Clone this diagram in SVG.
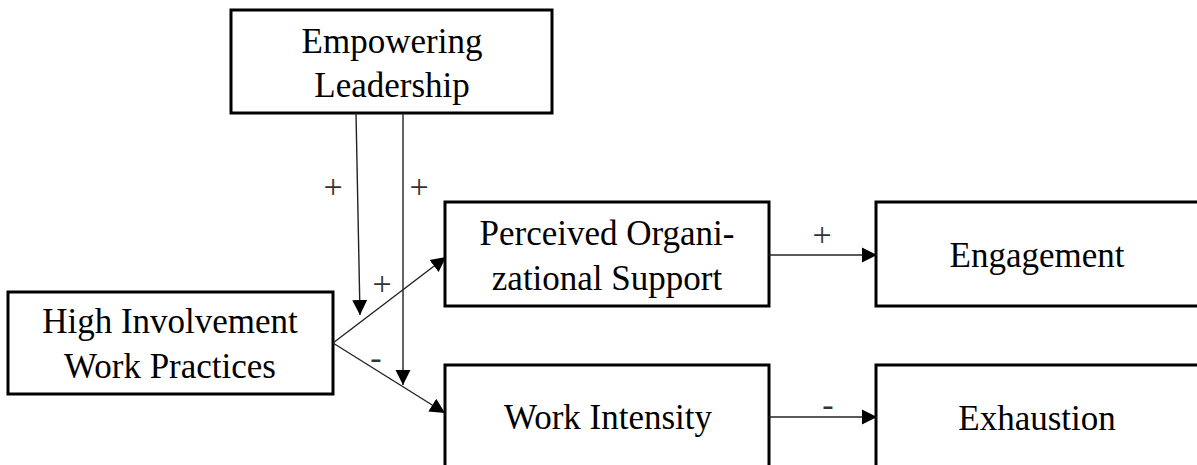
<svg xmlns="http://www.w3.org/2000/svg" width="1197" height="465" viewBox="0 0 1197 465">
<style>
.box{fill:#fff;stroke:#000;stroke-width:3}
.t{font-family:"Liberation Serif","Times New Roman",serif;font-size:35px;fill:#000;text-anchor:middle}
.s{font-family:"Liberation Serif","Times New Roman",serif;font-size:34px;fill:#333;text-anchor:middle}
.c{stroke:#222;stroke-width:1.4;fill:none;marker-end:url(#ah)}
</style>
<defs>
<marker id="ah" markerUnits="userSpaceOnUse" markerWidth="16" markerHeight="16" refX="15" refY="7.5" orient="auto" viewBox="0 0 16 15">
<path d="M0,0 L15,7.5 L0,15 z" fill="#000"/>
</marker>
</defs>
<g id="empowering-leadership">
<rect class="box" x="231" y="10" width="321" height="103"/>
<text class="t" x="392" y="53">Empowering</text>
<text class="t" x="392" y="97">Leadership</text>
</g>
<g id="hiwp">
<rect class="box" x="8" y="292" width="325" height="102"/>
<text class="t" x="170" y="333">High Involvement</text>
<text class="t" x="170" y="378">Work Practices</text>
</g>
<g id="pos">
<rect class="box" x="445" y="202" width="324" height="104"/>
<text class="t" x="607" y="245">Perceived Organi-</text>
<text class="t" x="607" y="290">zational Support</text>
</g>
<g id="work-intensity">
<rect class="box" x="445" y="365" width="324" height="110"/>
<text class="t" x="608" y="429">Work Intensity</text>
</g>
<g id="engagement">
<rect class="box" x="876" y="202" width="330" height="104"/>
<text class="t" x="1037" y="267">Engagement</text>
</g>
<g id="exhaustion">
<rect class="box" x="876" y="365" width="330" height="110"/>
<text class="t" x="1037" y="430">Exhaustion</text>
</g>
<g id="connectors">
<line class="c" x1="356" y1="113" x2="360" y2="315"/>
<line class="c" x1="403" y1="113" x2="403" y2="385"/>
<line class="c" x1="333" y1="343" x2="446" y2="257"/>
<line class="c" x1="333" y1="343" x2="445" y2="413"/>
<line class="c" x1="769" y1="255" x2="877" y2="255"/>
<line class="c" x1="769" y1="417" x2="877" y2="417"/>
<text class="s" x="333" y="198">+</text>
<text class="s" x="419" y="198">+</text>
<text class="s" x="382" y="295">+</text>
<text class="s" x="822" y="246">+</text>
<text class="s" x="376" y="369">-</text>
<text class="s" x="828" y="416">-</text>
</g>
</svg>
